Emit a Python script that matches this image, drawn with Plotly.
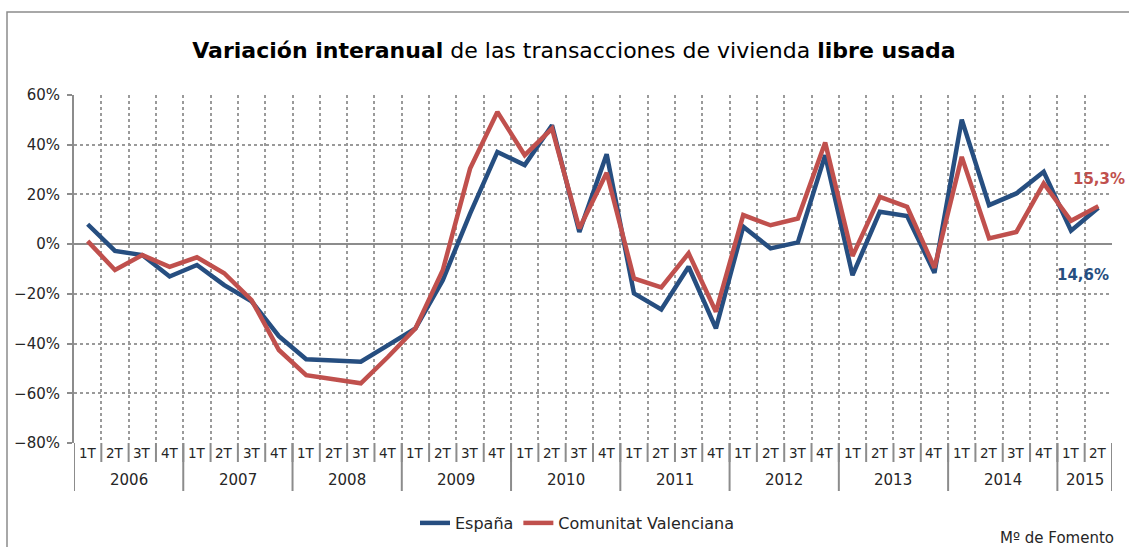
import plotly.graph_objects as go

years = ["2006", "2007", "2008", "2009", "2010", "2011", "2012", "2013", "2014", "2015"]
quarters_per_year = [4, 4, 4, 4, 4, 4, 4, 4, 4, 2]
quarter_names = ["1T", "2T", "3T", "4T"]

espana = [8, -2.7, -4.4, -13, -8.4, -16.5, -23, -37, -46.3, -46.6, -47.3, -40.6,
          -33.9, -14.5, 12.3, 37.1, 31.8, 47.8, 4.9, 36.2, -19.8, -26.3, -9.1, -33.9,
          7, -1.7, 0.7, 35.8, -12.5, 13, 11.3, -11.5, 50.1, 15.7, 20.4, 29.1, 5.4, 14.6]
valenciana = [1.2, -10.4, -4.4, -9.1, -5.3, -11.7, -22.5, -42.6, -52.7, -54.4, -56, -45.3,
              -33.9, -10.5, 30.4, 53.2, 35.8, 46.5, 6.3, 28.7, -13.8, -17.4, -3.7, -27.2,
              11.7, 7.6, 10.3, 40.9, -4.8, 19, 15, -9.5, 35.1, 2.3, 4.9, 24.4, 9.4, 15.3]

series_names = ["España", "Comunitat Valenciana"]
label_esp = "14,6%"
label_cv = "15,3%"

BLUE = "#264E80"
RED = "#C0504D"
GRID = "#9a9a9a"
AXIS = "#8c8c8c"
TXT = "#262626"
FONT = "DejaVu Sans"

quarters = []
year_of = []
for y, n in zip(years, quarters_per_year):
    for q in quarter_names[:n]:
        quarters.append(q)
        year_of.append(y)
x = list(range(len(quarters)))
N = len(quarters)

fig = go.Figure()
fig.add_trace(go.Scatter(x=x, y=espana, mode="lines", name=series_names[0],
                         line=dict(color=BLUE, width=4.5)))
fig.add_trace(go.Scatter(x=x, y=valenciana, mode="lines", name=series_names[1],
                         line=dict(color=RED, width=4.5)))

# plot area geometry (pixels)
L, R, T, B = 74, 17, 95, 104
H = 547 - T - B
W = 1129 - L - R

shapes = []
annotations = []
# quarter separators and labels
for i in range(N + 1):
    shapes.append(dict(type="line", xref="x", yref="paper", x0=i - 0.5, x1=i - 0.5,
                       y0=0, y1=-19 / H, line=dict(color=AXIS, width=2)))
for i, q in enumerate(quarters):
    annotations.append(dict(x=i, y=-10 / H, xref="x", yref="paper", text=q, showarrow=False,
                            font=dict(family=FONT, size=13.5, color=TXT), yanchor="middle"))
# year separators and labels
start = 0
for y, n in zip(years, quarters_per_year):
    shapes.append(dict(type="line", xref="x", yref="paper", x0=start - 0.5, x1=start - 0.5,
                       y0=0, y1=-48 / H, line=dict(color=AXIS, width=2)))
    annotations.append(dict(x=start + (n - 1) / 2, y=-37 / H, xref="x", yref="paper", text=y,
                            showarrow=False, font=dict(family=FONT, size=15, color=TXT),
                            yanchor="middle"))
    start += n
shapes.append(dict(type="line", xref="x", yref="paper", x0=start - 0.5, x1=start - 0.5,
                   y0=0, y1=-48 / H, line=dict(color=AXIS, width=2)))

# outer border
shapes.append(dict(type="rect", xref="paper", yref="paper",
                   x0=(7 - L) / W, x1=1.2, y0=(443 - 12) / H, y1=-1,
                   line=dict(color="#8c8c8c", width=1.5)))

# end labels
annotations.append(dict(x=N - 1, y=valenciana[-1], xref="x", yref="y", text="<b>" + label_cv + "</b>",
                        showarrow=False, xshift=1, yshift=27,
                        font=dict(family=FONT, size=15, color=RED)))
annotations.append(dict(x=N - 1, y=espana[-1], xref="x", yref="y", text="<b>" + label_esp + "</b>",
                        showarrow=False, xshift=-15, yshift=-67,
                        font=dict(family=FONT, size=15, color=BLUE)))
# source
annotations.append(dict(x=(1116 - L) / W, y=(443 - 538) / H, xref="paper", yref="paper",
                        text="Mº de Fomento", showarrow=False, xanchor="right", yanchor="middle",
                        font=dict(family=FONT, size=15, color=TXT)))

fig.update_layout(
    width=1129, height=547,
    margin=dict(l=L, r=R, t=T, b=B, autoexpand=False),
    paper_bgcolor="white", plot_bgcolor="white",
    title=dict(text="<b>Variación interanual</b> de las transacciones de vivienda <b>libre usada</b>",
               x=574 / 1129, xref="container", xanchor="center",
               y=1 - 50 / 547, yref="container", yanchor="middle",
               font=dict(family=FONT, size=22, color="#000000")),
    showlegend=True,
    legend=dict(orientation="h", x=(577 - L) / W, xanchor="center",
                y=1 - 523 / 547, yref="container", yanchor="middle",
                font=dict(family=FONT, size=16, color=TXT), itemwidth=30),
    shapes=shapes,
    annotations=annotations,
    font=dict(family=FONT, color=TXT),
)
fig.update_xaxes(range=[-0.5, N - 0.5], tickmode="linear", tick0=-0.5, dtick=1,
                 showticklabels=False, showgrid=True, gridcolor=GRID, griddash="dot",
                 gridwidth=1.5, zeroline=False, showline=False, ticks="")
fig.update_yaxes(range=[-80, 60], tickmode="linear", tick0=-80, dtick=20, ticksuffix="%",
                 showgrid=True, gridcolor=GRID, griddash="dot", gridwidth=1.5,
                 zeroline=True, zerolinecolor=AXIS, zerolinewidth=2,
                 showline=True, linecolor=AXIS, linewidth=2,
                 ticks="outside", ticklen=5, tickcolor=AXIS, tickwidth=1.5,
                 ticklabelstandoff=4,
                 tickfont=dict(family=FONT, size=15, color=TXT))

fig.write_html("out.html", config={"displayModeBar": False},
               post_script="document.body.style.margin='0';document.body.style.padding='0';")
